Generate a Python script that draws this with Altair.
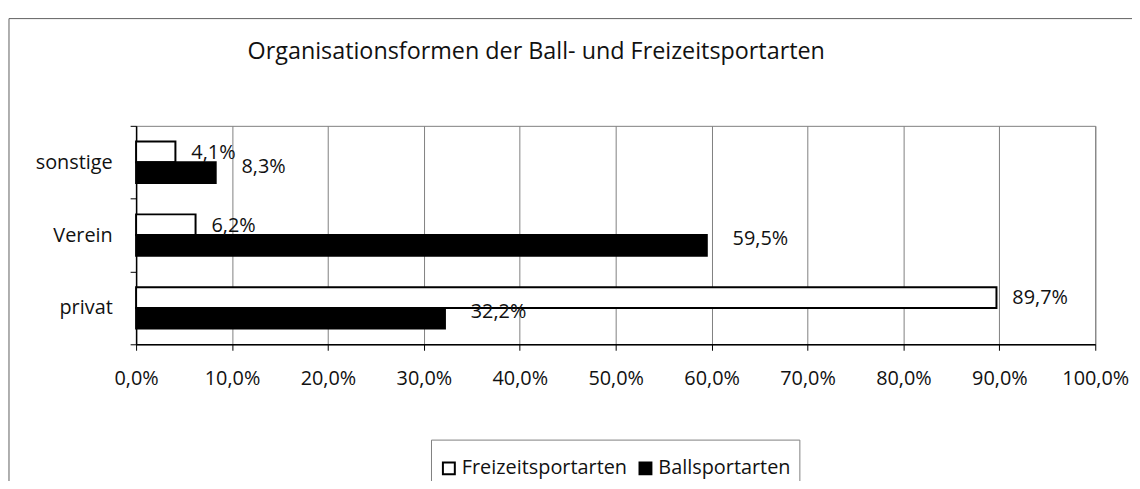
import altair as alt
import pandas as pd

categories = ["sonstige", "Verein", "privat"]
series = ["Freizeitsportarten", "Ballsportarten"]
freizeit = [0.041, 0.062, 0.897]
ballsport = [0.083, 0.595, 0.322]
x_ticks = [0.0, 0.1, 0.2, 0.3, 0.4, 0.5, 0.6, 0.7, 0.8, 0.9, 1.0]
title_text = "Organisationsformen der Ball- und Freizeitsportarten"

rows = []
for c, f, b in zip(categories, freizeit, ballsport):
    rows.append({"Kategorie": c, "Art": series[0], "Anteil": f})
    rows.append({"Kategorie": c, "Art": series[1], "Anteil": b})
df = pd.DataFrame(rows)

FONT = "Open Sans"
FS = 20
W, H = 966, 220

pct_expr = "replace(format(datum.value, '.1%'), '.', ',')"

x_enc = alt.X(
    "Anteil:Q",
    scale=alt.Scale(domain=[0, 1], nice=False, zero=True),
    axis=alt.Axis(
        values=x_ticks, labelExpr=pct_expr, title=None, grid=True,
        gridColor="#808080", gridWidth=1, domainColor="black", domainWidth=1.5,
        tickColor="black", tickSize=6, tickWidth=1, labelFont=FONT,
        labelFontSize=FS, labelColor="#111111", labelPadding=18, labelFlush=False,
    ),
)
y_enc = alt.Y(
    "Kategorie:N", sort=categories,
    scale=alt.Scale(paddingInner=0, paddingOuter=0),
    axis=alt.Axis(
        title=None, tickBand="extent", ticks=True, tickSize=6, tickColor="black",
        domainColor="black", domainWidth=1.5, labelFont=FONT, labelFontSize=FS,
        labelColor="#111111", labelPadding=18, grid=False,
    ),
)
yoff = alt.YOffset("Art:N", sort=series, scale=alt.Scale(paddingOuter=0.76, paddingInner=0))

base = alt.Chart(df)

bars = base.mark_bar(stroke="black", strokeWidth=2).encode(
    x=x_enc, y=y_enc, yOffset=yoff,
    color=alt.Color(
        "Art:N", sort=series,
        scale=alt.Scale(domain=series, range=["white", "black"]),
        legend=alt.Legend(
            title=" ", titleFontSize=1, titlePadding=10, orient="none",
            legendX=297, legendY=316,
            direction="horizontal", symbolType="square", symbolSize=144,
            symbolStrokeColor="black", symbolStrokeWidth=2, labelFont=FONT,
            labelFontSize=FS, labelColor="#111111", labelOffset=3, labelLimit=0,
            columnPadding=8, strokeColor="#808080", fillColor="white", padding=8,
        ),
    ),
)

lbl_calc = "replace(format(datum.Anteil, '.1%'), '.', ',')"

lab_f = base.transform_filter(alt.datum.Art == series[0]).transform_calculate(
    lbl=lbl_calc
).mark_text(align="left", baseline="middle", dx=16, dy=1, font=FONT, fontSize=FS, color="#111111").encode(
    x="Anteil:Q", y=alt.Y("Kategorie:N", sort=categories), yOffset=alt.YOffset("Art:N", sort=series), text="lbl:N"
)
lab_b = base.transform_filter(alt.datum.Art == series[1]).transform_calculate(
    lbl=lbl_calc
).mark_text(align="left", baseline="middle", dx=26, dy=-6, font=FONT, fontSize=FS, color="#111111").encode(
    x="Anteil:Q", y=alt.Y("Kategorie:N", sort=categories), yOffset=alt.YOffset("Art:N", sort=series), text="lbl:N"
)

one = pd.DataFrame({"z": [0]})

border = alt.Chart(one).mark_rect(
    fillOpacity=0, stroke="#606060", strokeWidth=1
).encode(
    x=alt.value(-128), x2=alt.value(1300), y=alt.value(-108), y2=alt.value(700)
)

title = alt.Chart(one).mark_text(
    text=title_text, font=FONT, fontSize=23.5, color="#111111",
    align="center", baseline="alphabetic",
).encode(x=alt.value(403), y=alt.value(-67))

chart = alt.layer(border, title, bars, lab_f, lab_b).properties(
    width=W, height=H,
    padding={"left": 129, "top": 117, "right": 37, "bottom": 136},
    autosize=alt.AutoSizeParams(type="none"),
    background="white",
).configure_view(stroke="#808080", strokeWidth=1)

chart.save("out.html", embed_options={"renderer": "svg", "actions": False})
